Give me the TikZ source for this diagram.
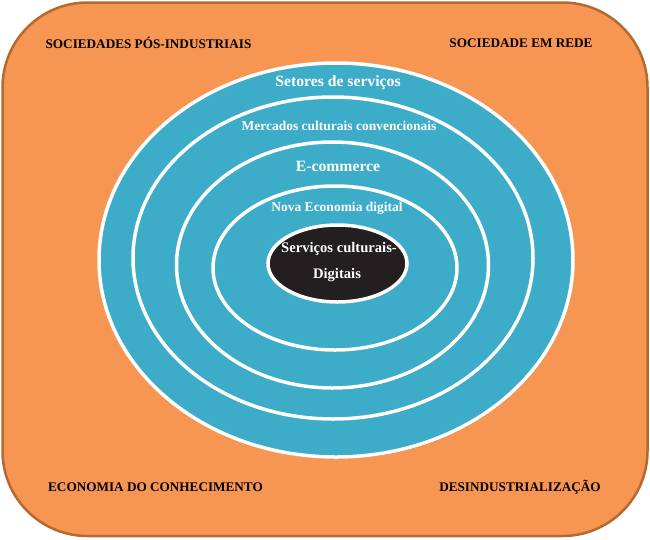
\documentclass[tikz,border=0pt]{standalone}
\usepackage{fontspec}
\setmainfont{Liberation Serif}
\usetikzlibrary{shadows}
\definecolor{bgorange}{HTML}{F79552}
\definecolor{bgbrown}{HTML}{B5692F}
\definecolor{ringteal}{HTML}{3CACC8}
\definecolor{corefill}{HTML}{231F20}
\begin{document}
\begin{tikzpicture}[x=1pt,y=-1pt,
  ring/.style={fill=ringteal,draw=white,line width=3.5pt,
    drop shadow={shadow xshift=1pt,shadow yshift=-1.6pt,opacity=0.45,fill=black!70}},
  core/.style={fill=corefill,draw=white,line width=3.5pt,
    drop shadow={shadow xshift=1pt,shadow yshift=-1.6pt,opacity=0.45,fill=black!70}},
  corelbl/.style={font=\bfseries\fontsize{14.6}{16}\selectfont,text=white},
  ringlbl/.style={font=\bfseries\fontsize{15.7}{17}\selectfont,text=white},
  ringlblsm/.style={font=\bfseries\fontsize{13.5}{16}\selectfont,text=white},
  cornerlbl/.style={font=\bfseries\fontsize{13.2}{15}\selectfont,text=black}]
\useasboundingbox (0,0) rectangle (650,539);
\draw[fill=bgorange,draw=bgbrown,line width=2.5pt,rounded corners=85pt] (2.5,2.5) rectangle (647.5,536);
\path[ring] (336,260) ellipse [x radius=237pt,y radius=197pt];
\path[ring] (333,258) ellipse [x radius=200pt,y radius=161pt];
\path[ring] (332.5,265) ellipse [x radius=156pt,y radius=123pt];
\path[ring] (335,268) ellipse [x radius=122pt,y radius=82pt];
\path[core] (337.5,263.5) ellipse [x radius=69.5pt,y radius=38.5pt];
\node[ringlbl] (setores) at (338,83) {Setores de serviços};
\node[ringlblsm] (mercados) at (339,126) {Mercados culturais convencionais};
\node[ringlbl] (ecom) at (338,166) {E-commerce};
\node[ringlblsm] (nova) at (337,208) {Nova Economia digital};
\node[corelbl] (serv) at (339,249) {Serviços culturais-};
\node[corelbl] (dig) at (337,275) {Digitais};
\node[cornerlbl] (spi) at (148.5,43) {SOCIEDADES PÓS-INDUSTRIAIS};
\node[cornerlbl] (rede) at (521,43) {SOCIEDADE EM REDE};
\node[cornerlbl] (econ) at (155.5,487) {ECONOMIA DO CONHECIMENTO};
\node[cornerlbl] (desind) at (520,487) {DESINDUSTRIALIZAÇÃO};
\end{tikzpicture}
\end{document}
